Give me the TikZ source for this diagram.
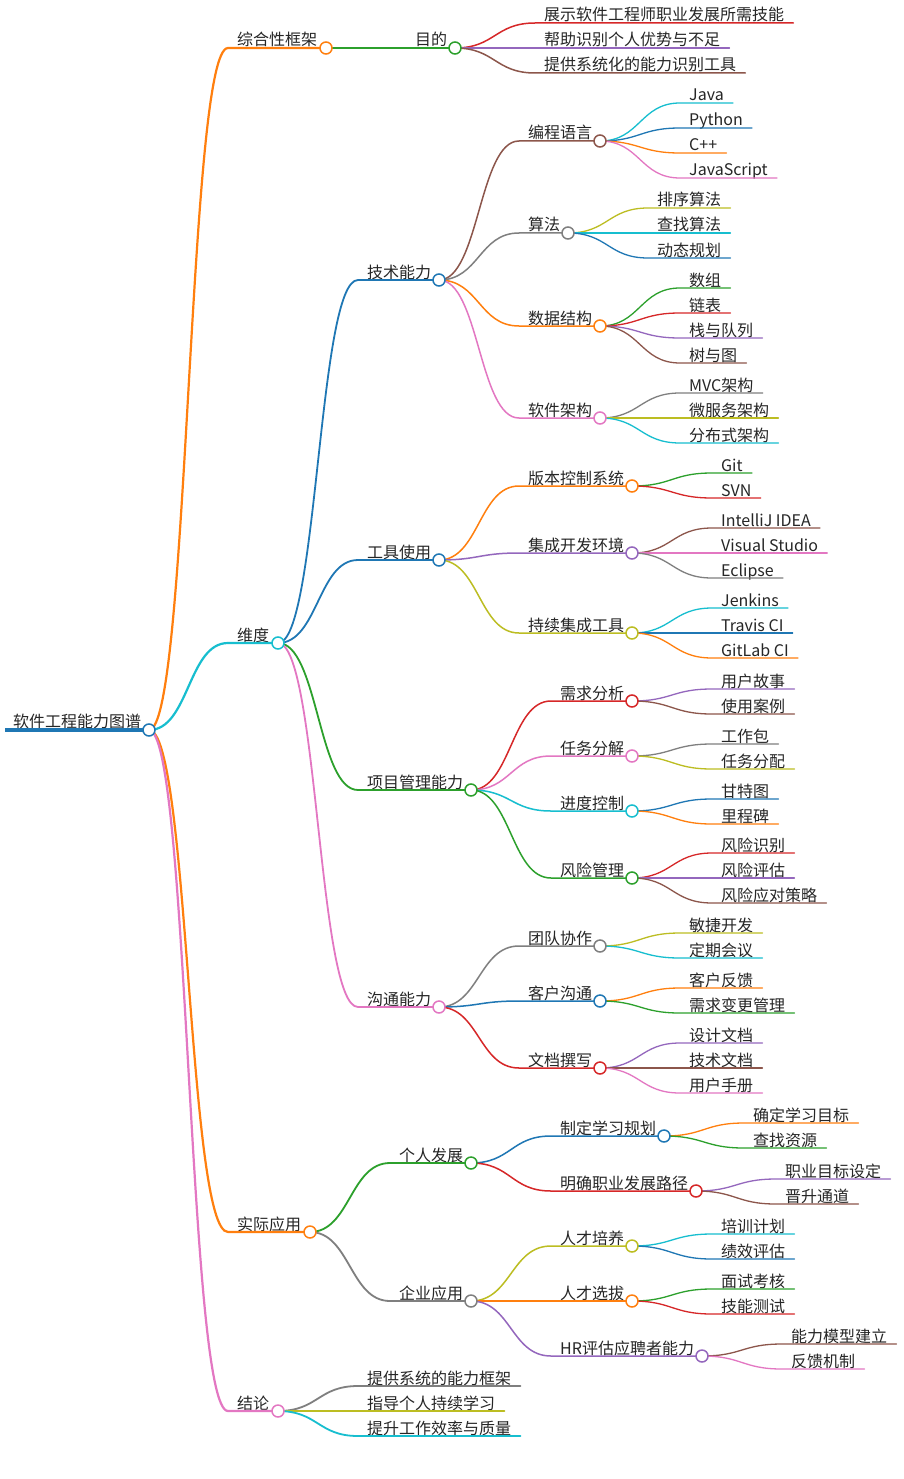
\documentclass[tikz,border=0pt]{standalone}
\usepackage{fontspec}
\setmainfont{Noto Sans CJK SC}
\pgfdeclarelayer{fg}
\pgfsetlayers{main,fg}
\definecolor{cB}{HTML}{1F77B4}
\definecolor{cO}{HTML}{FF7F0E}
\definecolor{cG}{HTML}{2CA02C}
\definecolor{cR}{HTML}{D62728}
\definecolor{cP}{HTML}{9467BD}
\definecolor{cBr}{HTML}{8C564B}
\definecolor{cPk}{HTML}{E377C2}
\definecolor{cGy}{HTML}{7F7F7F}
\definecolor{cOl}{HTML}{BCBD22}
\definecolor{cC}{HTML}{17BECF}
\tikzset{
  mmtext/.style={anchor=base west, inner xsep=9pt, inner ysep=0pt, text=black!85,
    font={\fontsize{16pt}{18pt}\selectfont}},
  mmdot/.style={fill=white, line width=1.5pt}
}
% inner node: name, parent, x0, y, circle x, colour, line width, text
\newcommand\MMi[8]{%
  \coordinate (#1-in) at (#3,#4);
  \coordinate (#1) at (#5,#4);
  \node[mmtext] (#1-t) at (#3,#4-2) {#8};
  \draw[#6, line width=#7pt] (#2) .. controls +(40,0) and +(-40,0) .. (#1-in) -- (#1);
  \begin{pgfonlayer}{fg}\draw[#6, mmdot] (#1) circle[radius=6pt];\end{pgfonlayer}
}
% leaf: name, parent, x0, y, colour, line width, text
\newcommand\MMl[7]{%
  \coordinate (#1-in) at (#3,#4);
  \node[mmtext] (#1-t) at (#3,#4-2) {#7};
  \draw[#5, line width=#6pt] (#2) .. controls +(40,0) and +(-40,0) .. (#1-in) -- (#1-in -| #1-t.east);
}
\begin{document}
\begin{tikzpicture}[x=1pt, y=-1pt, line cap=round]
\fill[white] (0,0) rectangle (903,1479);
\useasboundingbox (0,0) rectangle (903,1479);
% root
\coordinate (root-in) at (5,730);
\coordinate (root) at (149,730);
\node[mmtext, inner xsep=8pt] (root-t) at (5,727.5) {软件工程能力图谱};
\draw[cB, line width=3.5pt, line cap=butt] (root-in) -- (root);
\begin{pgfonlayer}{fg}\draw[cB, mmdot] (root) circle[radius=6pt];\end{pgfonlayer}
% level 1
\MMi{A}{root}{228}{48}{326}{cO}{2.2}{综合性框架}
\MMi{B}{root}{228}{643}{278}{cC}{2.2}{维度}
\MMi{C}{root}{228}{1232}{310}{cO}{2.2}{实际应用}
\MMi{D}{root}{228}{1411}{278}{cPk}{2.2}{结论}
% level 2
\MMi{A1}{A}{406}{48}{455}{cG}{1.8}{目的}
\MMi{B1}{B}{358}{280}{439}{cB}{1.8}{技术能力}
\MMi{B2}{B}{358}{560}{439}{cB}{1.8}{工具使用}
\MMi{B3}{B}{358}{790}{471}{cG}{1.8}{项目管理能力}
\MMi{B4}{B}{358}{1007}{439}{cPk}{1.8}{沟通能力}
\MMi{C1}{C}{390}{1163}{471}{cG}{1.8}{个人发展}
\MMi{C2}{C}{390}{1301}{471}{cGy}{1.8}{企业应用}
\MMl{D1}{D}{358}{1386}{cGy}{1.8}{提供系统的能力框架}
\MMl{D2}{D}{358}{1411}{cOl}{1.8}{指导个人持续学习}
\MMl{D3}{D}{358}{1436}{cC}{1.8}{提升工作效率与质量}
% level 3
\MMl{A1a}{A1}{535}{23}{cR}{1.5}{展示软件工程师职业发展所需技能}
\MMl{A1b}{A1}{535}{48}{cP}{1.5}{帮助识别个人优势与不足}
\MMl{A1c}{A1}{535}{73}{cBr}{1.5}{提供系统化的能力识别工具}
\MMi{B11}{B1}{519}{141}{600}{cBr}{1.5}{编程语言}
\MMi{B12}{B1}{519}{233}{568}{cGy}{1.5}{算法}
\MMi{B13}{B1}{519}{326}{600}{cO}{1.5}{数据结构}
\MMi{B14}{B1}{519}{418}{600}{cPk}{1.5}{软件架构}
\MMi{B21}{B2}{519}{486}{632}{cO}{1.5}{版本控制系统}
\MMi{B22}{B2}{519}{553}{632}{cP}{1.5}{集成开发环境}
\MMi{B23}{B2}{519}{633}{632}{cOl}{1.5}{持续集成工具}
\MMi{B31}{B3}{551}{701}{632}{cR}{1.5}{需求分析}
\MMi{B32}{B3}{551}{756}{632}{cPk}{1.5}{任务分解}
\MMi{B33}{B3}{551}{811}{632}{cC}{1.5}{进度控制}
\MMi{B34}{B3}{551}{878}{632}{cG}{1.5}{风险管理}
\MMi{B41}{B4}{519}{946}{600}{cGy}{1.5}{团队协作}
\MMi{B42}{B4}{519}{1001}{600}{cB}{1.5}{客户沟通}
\MMi{B43}{B4}{519}{1068}{600}{cR}{1.5}{文档撰写}
\MMi{C11}{C1}{551}{1136}{664}{cB}{1.5}{制定学习规划}
\MMi{C12}{C1}{551}{1191}{696}{cR}{1.5}{明确职业发展路径}
\MMi{C21}{C2}{551}{1246}{632}{cOl}{1.5}{人才培养}
\MMi{C22}{C2}{551}{1301}{632}{cO}{1.5}{人才选拔}
\MMi{C23}{C2}{551}{1356}{702}{cP}{1.5}{HR评估应聘者能力}
% level 4
\MMl{B11a}{B11}{680}{103}{cC}{1.3}{Java}
\MMl{B11b}{B11}{680}{128}{cB}{1.3}{Python}
\MMl{B11c}{B11}{680}{153}{cO}{1.3}{C++}
\MMl{B11d}{B11}{680}{178}{cPk}{1.3}{JavaScript}
\MMl{B12a}{B12}{648}{208}{cOl}{1.3}{排序算法}
\MMl{B12b}{B12}{648}{233}{cC}{1.3}{查找算法}
\MMl{B12c}{B12}{648}{258}{cB}{1.3}{动态规划}
\MMl{B13a}{B13}{680}{288}{cG}{1.3}{数组}
\MMl{B13b}{B13}{680}{313}{cR}{1.3}{链表}
\MMl{B13c}{B13}{680}{338}{cP}{1.3}{栈与队列}
\MMl{B13d}{B13}{680}{363}{cBr}{1.3}{树与图}
\MMl{B14a}{B14}{680}{393}{cGy}{1.3}{MVC架构}
\MMl{B14b}{B14}{680}{418}{cOl}{1.3}{微服务架构}
\MMl{B14c}{B14}{680}{443}{cC}{1.3}{分布式架构}
\MMl{B21a}{B21}{712}{473}{cG}{1.3}{Git}
\MMl{B21b}{B21}{712}{498}{cR}{1.3}{SVN}
\MMl{B22a}{B22}{712}{528}{cBr}{1.3}{IntelliJ IDEA}
\MMl{B22b}{B22}{712}{553}{cPk}{1.3}{Visual Studio}
\MMl{B22c}{B22}{712}{578}{cGy}{1.3}{Eclipse}
\MMl{B23a}{B23}{712}{608}{cC}{1.3}{Jenkins}
\MMl{B23b}{B23}{712}{633}{cB}{1.3}{Travis CI}
\MMl{B23c}{B23}{712}{658}{cO}{1.3}{GitLab CI}
\MMl{B31a}{B31}{712}{689}{cP}{1.3}{用户故事}
\MMl{B31b}{B31}{712}{714}{cBr}{1.3}{使用案例}
\MMl{B32a}{B32}{712}{744}{cGy}{1.3}{工作包}
\MMl{B32b}{B32}{712}{769}{cOl}{1.3}{任务分配}
\MMl{B33a}{B33}{712}{799}{cB}{1.3}{甘特图}
\MMl{B33b}{B33}{712}{824}{cO}{1.3}{里程碑}
\MMl{B34a}{B34}{712}{853}{cR}{1.3}{风险识别}
\MMl{B34b}{B34}{712}{878}{cP}{1.3}{风险评估}
\MMl{B34c}{B34}{712}{903}{cBr}{1.3}{风险应对策略}
\MMl{B41a}{B41}{680}{933}{cOl}{1.3}{敏捷开发}
\MMl{B41b}{B41}{680}{958}{cC}{1.3}{定期会议}
\MMl{B42a}{B42}{680}{988}{cO}{1.3}{客户反馈}
\MMl{B42b}{B42}{680}{1013}{cG}{1.3}{需求变更管理}
\MMl{B43a}{B43}{680}{1043}{cP}{1.3}{设计文档}
\MMl{B43b}{B43}{680}{1068}{cBr}{1.3}{技术文档}
\MMl{B43c}{B43}{680}{1093}{cPk}{1.3}{用户手册}
\MMl{C11a}{C11}{744}{1123}{cO}{1.3}{确定学习目标}
\MMl{C11b}{C11}{744}{1148}{cG}{1.3}{查找资源}
\MMl{C12a}{C12}{776}{1179}{cP}{1.3}{职业目标设定}
\MMl{C12b}{C12}{776}{1204}{cBr}{1.3}{晋升通道}
\MMl{C21a}{C21}{712}{1234}{cC}{1.3}{培训计划}
\MMl{C21b}{C21}{712}{1259}{cB}{1.3}{绩效评估}
\MMl{C22a}{C22}{712}{1289}{cG}{1.3}{面试考核}
\MMl{C22b}{C22}{712}{1314}{cR}{1.3}{技能测试}
\MMl{C23a}{C23}{782}{1344}{cBr}{1.3}{能力模型建立}
\MMl{C23b}{C23}{782}{1369}{cPk}{1.3}{反馈机制}
\end{tikzpicture}
\end{document}
